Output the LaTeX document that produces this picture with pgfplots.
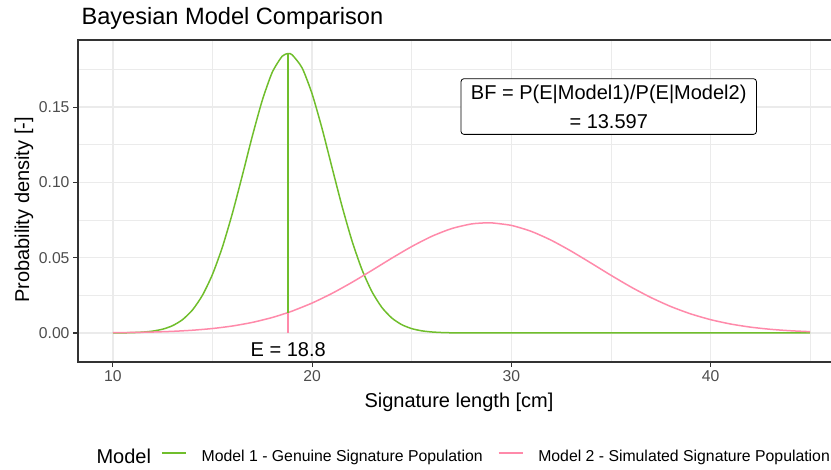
\documentclass[border=0pt]{standalone}
\usepackage{pgfplots}
\pgfplotsset{compat=1.18}
\usepackage{fontspec}
\setmainfont{Liberation Sans}
\definecolor{mgreen}{RGB}{112,190,44}
\definecolor{mpink}{RGB}{255,138,170}
\definecolor{grid92}{RGB}{235,235,235}
\definecolor{grey20}{RGB}{51,51,51}
\definecolor{grey30}{RGB}{77,77,77}
\begin{document}
\begin{tikzpicture}[x=1bp,y=1bp]
\useasboundingbox (0,0) rectangle (831,470);
\begin{axis}[at={(78bp,108bp)}, anchor=south west, scale only axis,
 width=767bp, height=322bp,
 xmin=8.25, xmax=46.75, ymin=-0.01926, ymax=0.19456,
 xtick={10,20,30,40}, minor xtick={15,25,35,45},
 ytick={0,0.05,0.1,0.15}, minor ytick={0.025,0.075,0.125,0.175},
 grid=both,
 major grid style={grid92, line width=1.6bp},
 minor grid style={grid92, line width=0.8bp},
 axis line style={grey20, line width=1.1bp},
 tick style={grey20, line width=1.1bp},
 major tick length=5bp, minor tick length=0pt,
 tick align=outside, xtick pos=bottom, ytick pos=left,
 ticklabel style={font=\fontsize{15.7bp}{19bp}\selectfont, text=grey30},
 /pgf/number format/assume math mode=true,
 yticklabel style={/pgf/number format/fixed, /pgf/number format/precision=2, /pgf/number format/fixed zerofill},
 scaled y ticks=false,
 legend columns=-1,
 legend style={at={(0.1082,-0.295)}, anchor=west, draw=none, fill=none,
   inner sep=0pt, column sep=15bp,
   font=\fontsize{15.8bp}{19bp}\selectfont,
   nodes={inner sep=0pt, text=black}},
 legend image code/.code={\draw[#1, line width=1.5bp] (0bp,4bp) -- (24bp,4bp);},
 clip=false,
]
\addplot[mgreen, line width=1.5bp, smooth, tension=0.4] coordinates {
(10,0.0000427)(10.5,0.000108)(11,0.000258)(11.5,0.000582)(12,0.001248)(12.5,0.002535)
(13,0.004874)(13.5,0.008892)(14,0.01535)(14.5,0.02511)(15,0.03891)(15.5,0.05713)
(16,0.07947)(16.5,0.1047)(17,0.1307)(17.5,0.1545)(18,0.1731)(18.5,0.1838)(18.8,0.18555)
(19,0.1847)(19.5,0.1760)(20,0.1588)(20.5,0.1358)(21,0.1099)(21.5,0.08434)(22,0.06130)
(22.5,0.04221)(23,0.02753)(23.5,0.01701)(24,0.009957)(24.5,0.005526)(25,0.002902)
(25.5,0.001444)(26,0.000681)(26.5,0.000304)(27,0.000129)(28,0.0000196)(29,0.000002)
(30,0)(35,0)(40,0)(45,0)};
\addlegendentry{Model 1 - Genuine Signature Population}
\addplot[mpink, line width=1.5bp, smooth, tension=0.4] coordinates {
(10,0.000191)(11,0.000353)(12,0.000633)(13,0.001096)(14,0.001833)(15,0.002966)
(16,0.004642)(17,0.007023)(18,0.01028)(18.8,0.01359)(19,0.01453)(20,0.01988)
(21,0.02629)(22,0.03361)(23,0.04155)(24,0.04967)(25,0.05740)(26,0.06415)
(27,0.06931)(28,0.07242)(28.8,0.0732)(29,0.07315)(30,0.07145)(31,0.06748)
(32,0.06161)(33,0.05439)(34,0.04644)(35,0.03833)(36,0.03058)(37,0.02360)
(38,0.01760)(39,0.01270)(40,0.008864)(41,0.005976)(42,0.003896)(43,0.002457)
(44,0.001498)(45,0.000883)};
\addlegendentry{Model 2 - Simulated Signature Population}
\addplot[mgreen, line width=1.5bp, forget plot] coordinates {(18.8,0)(18.8,0.18555)};
\addplot[mpink, line width=1.5bp, forget plot] coordinates {(18.8,0)(18.8,0.01359)};
\node[anchor=base, font=\fontsize{20bp}{24bp}\selectfont] at (axis cs:18.8,-0.0157) {E = 18.8};
\node[anchor=north, draw=black, fill=white, rounded corners=3bp, align=center,
  font=\fontsize{20bp}{29bp}\selectfont, inner xsep=10bp, inner ysep=6bp, line width=0.8bp]
  at (axis cs:34.89,0.16912) {BF = P(E|Model1)/P(E|Model2)\\= 13.597};
\end{axis}
\node[anchor=base west, font=\fontsize{23.6bp}{28bp}\selectfont] at (78,445) {Bayesian Model Comparison};
\node[anchor=base, font=\fontsize{20bp}{24bp}\selectfont] at (459,62) {Signature length [cm]};
\node[anchor=base, rotate=90, font=\fontsize{20bp}{24bp}\selectfont] at (29,260) {Probability density [-]};
\node[anchor=base west, font=\fontsize{20bp}{24bp}\selectfont] at (93,6) {Model};
\end{tikzpicture}
\end{document}
